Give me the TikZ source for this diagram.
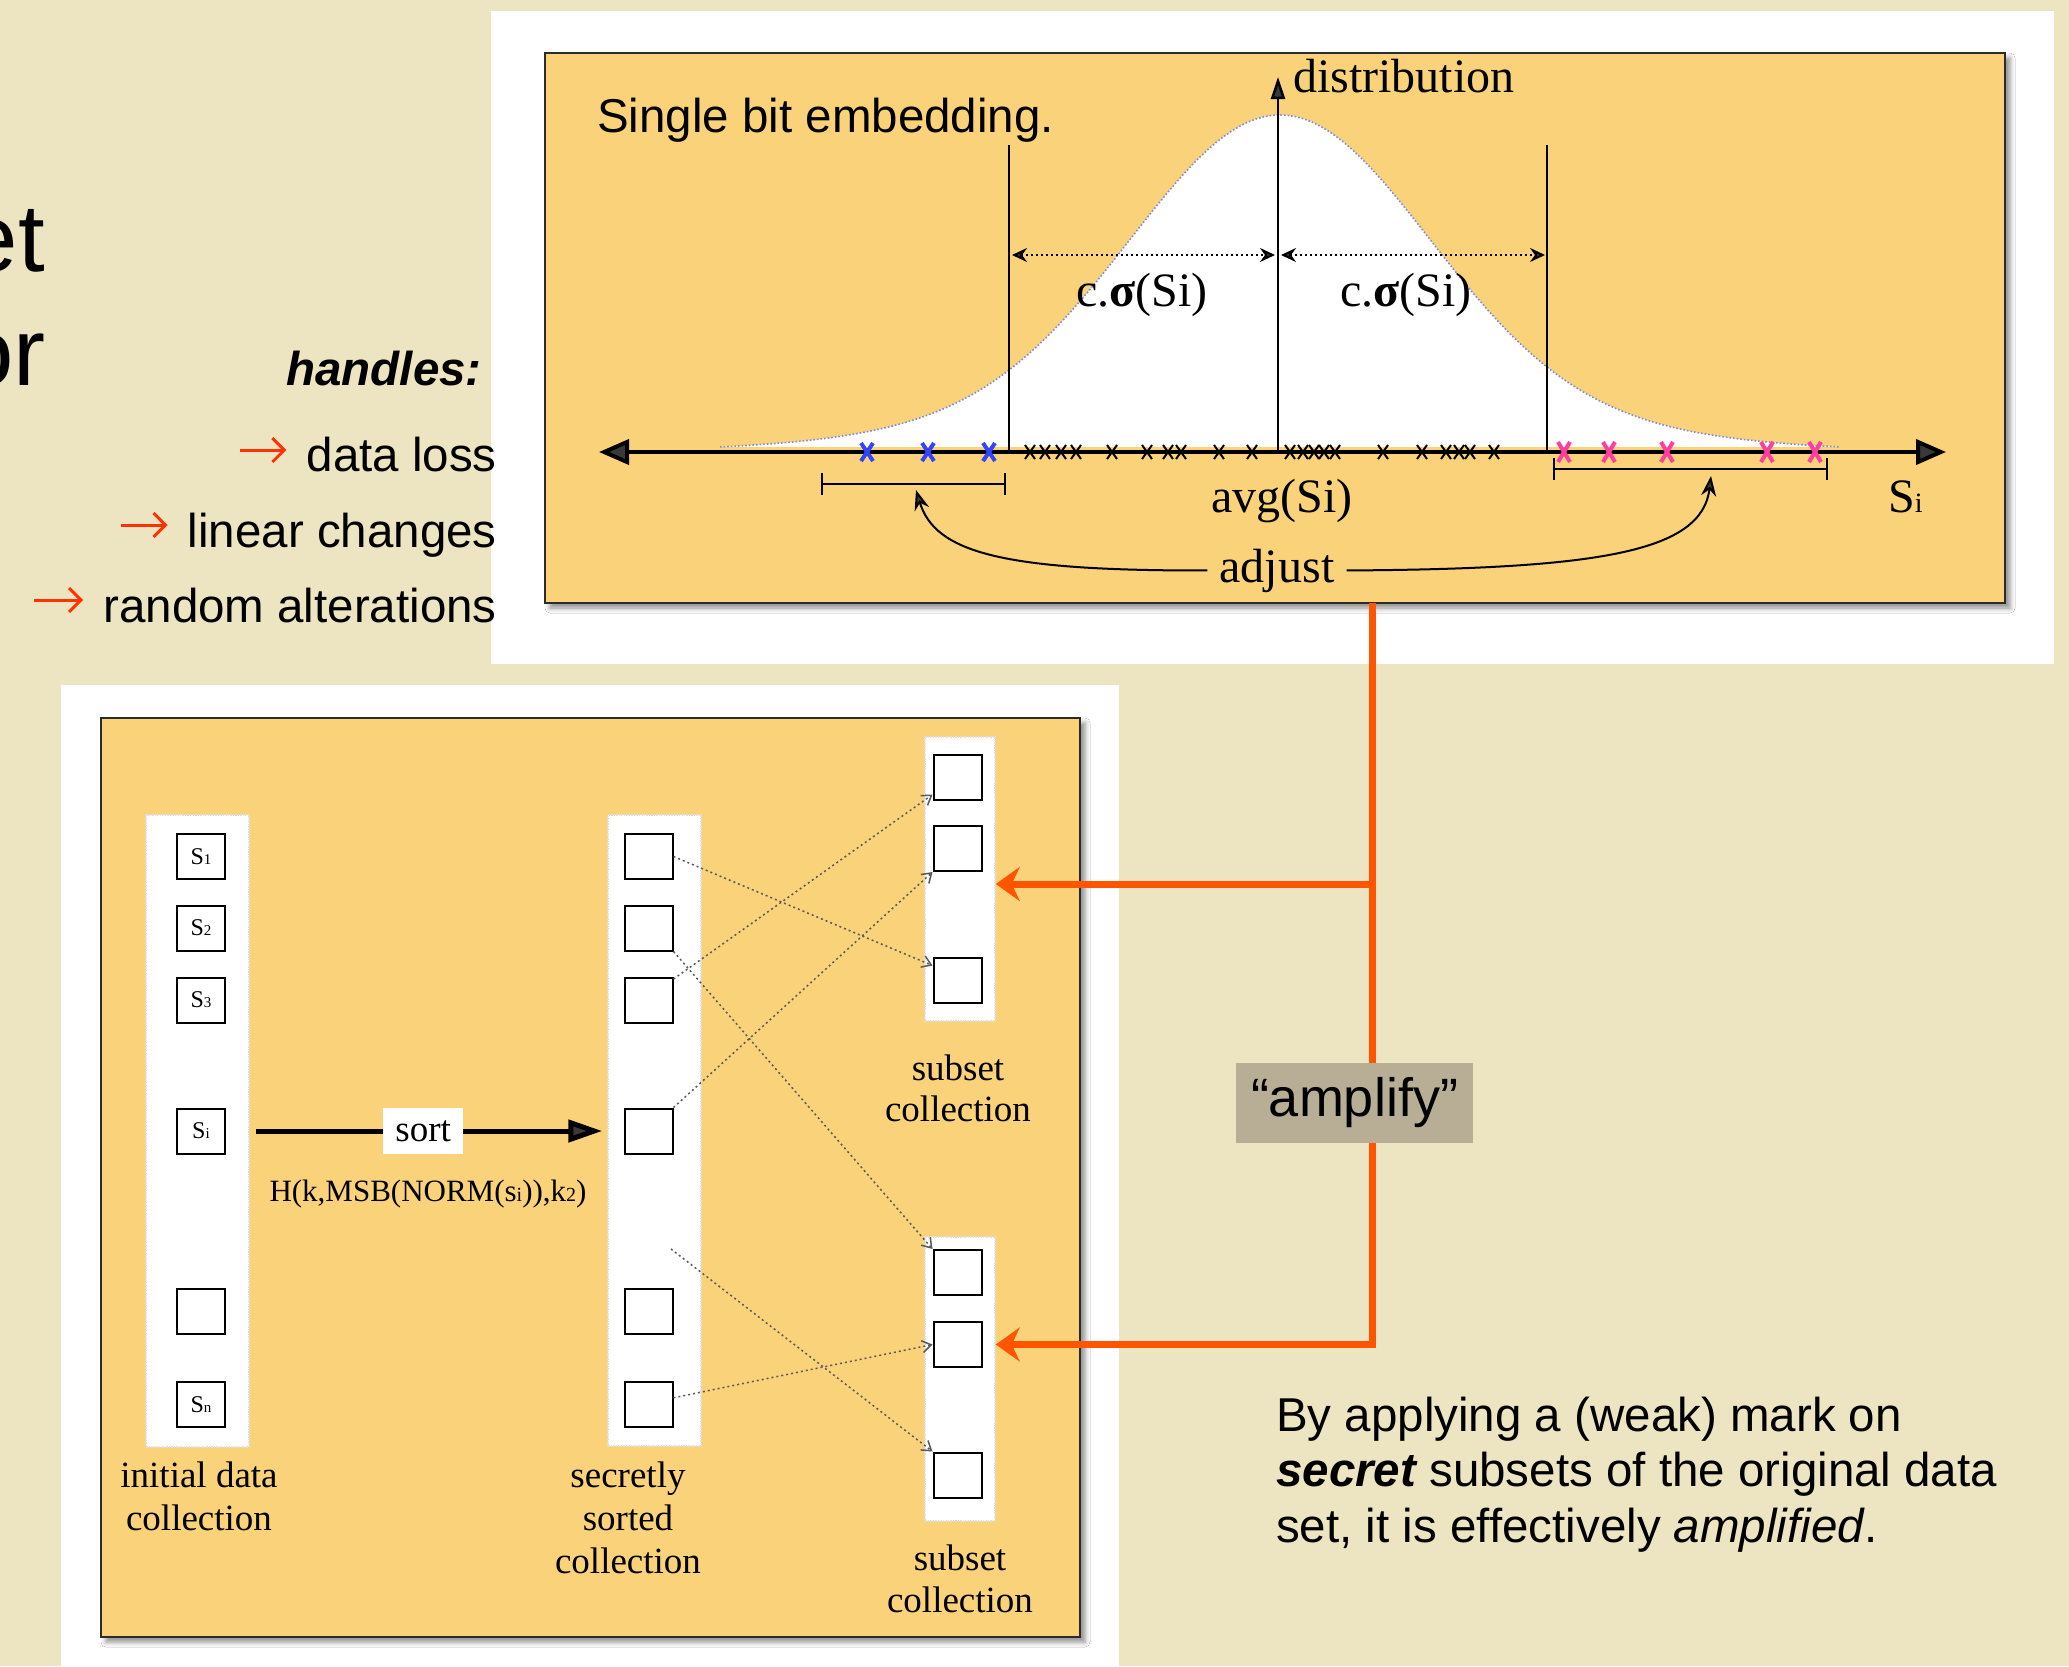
\documentclass[tikz,border=0pt]{standalone}
\usepackage{fontspec}
\setmainfont{Liberation Serif}
\newfontfamily\arialfam{Liberation Sans}
\usetikzlibrary{arrows.meta,shadows.blur}
\definecolor{bgbeige}{HTML}{EDE4C2}
\definecolor{panelfill}{HTML}{FAD27A}
\definecolor{panelline}{HTML}{2B2B2B}
\definecolor{amplifybg}{HTML}{B8AE96}
\definecolor{connorange}{HTML}{FF5500}
\definecolor{arrowred}{HTML}{FF3300}
\definecolor{markblue}{HTML}{3344FF}
\definecolor{markpink}{HTML}{FF3FA0}
\definecolor{curveblue}{HTML}{7C8CD8}
\newcommand\fsz[1]{\fontsize{#1}{#1}\selectfont}
\begin{document}
\begin{tikzpicture}[x=1pt,y=-1pt,
  sanstext/.style={font=\arialfam\fsz{47.5}, inner sep=0pt},
  serifbig/.style={font=\fsz{48}, inner sep=0pt},
  seriflow/.style={font=\fsz{37}, inner sep=0pt},
  panel/.style={draw=panelline, line width=2.5pt, fill=panelfill,
    blur shadow={shadow xshift=5pt, shadow yshift=-5pt, shadow blur radius=5pt, shadow opacity=45}},
  strip/.style={fill=white, draw=black!12, densely dotted, line width=1.5pt, inner sep=0pt},
  cell/.style={draw=black, line width=2pt, fill=white, minimum width=48pt, minimum height=45pt, inner sep=0pt, font=\fsz{24}},
  mapline/.style={draw=black!65, line width=1.5pt, dash pattern=on 2pt off 3pt, -{Straight Barb[length=9pt,width=12pt]}},
  orangeconn/.style={draw=connorange, line width=7pt, -{Stealth[length=24pt,width=34pt,inset=8pt]}},
  redarrow/.style={draw=arrowred, line width=3pt, shorten >=20pt, -{Straight Barb[length=12pt,width=24pt,line width=3pt]}},
  dimarrow/.style={line width=2pt, dash pattern=on 2pt off 3pt,
    {Stealth[length=15pt,width=14pt,inset=5pt]}-{Stealth[length=15pt,width=14pt,inset=5pt]}},
  curvearrow/.style={line width=2pt, -{Stealth[length=20pt,width=15pt]}}
]
\useasboundingbox (0,0) rectangle (2069,1666);
\fill[bgbeige] (0,0) rectangle (2069,1666);

% cut-off title fragments (cut off at the left edge as in the reference)
\begin{scope}
\clip (0,0) rectangle (2069,1666);
\node[font=\arialfam\fsz{96}, inner sep=0pt, anchor=base east] (ttla) at (45,271) {et};
\node[font=\arialfam\fsz{96}, inner sep=0pt, anchor=base east] (ttlb) at (46,385) {or};
\end{scope}

% ---------- top panel ----------
\fill[white] (491,11) rectangle (2054,664);
\path[panel] (545,53) rectangle (2005,603);

% bell curve
\fill[white] plot[domain=-560:560, samples=141]
  ({1280+\x},{452-337*(0.82*exp(-0.5*(\x/145)*(\x/145))+0.18*exp(-0.5*(\x/250)*(\x/250)))}) -- cycle;
\draw[curveblue, line width=1.6pt, dotted] plot[domain=-560:560, samples=141]
  ({1280+\x},{452-337*(0.82*exp(-0.5*(\x/145)*(\x/145))+0.18*exp(-0.5*(\x/250)*(\x/250)))});

% vertical lines
\draw[line width=2pt] (1009,145) -- (1009,452);
\draw[line width=2pt] (1547,145) -- (1547,452);
\coordinate (vaxb) at (1278,452);
\coordinate (vaxt) at (1278,77);
\draw[line width=2.5pt, -{Triangle[length=22pt,width=14pt]}] (vaxb) -- (vaxt);

% horizontal axis
\coordinate (axl) at (599,452);
\coordinate (axr) at (1946,452);
\draw[line width=4pt, {Triangle[length=30pt,width=25pt]}-{Triangle[length=30pt,width=25pt]}] (axl) -- (axr);

% marks
\foreach \p in {1030,1045,1061,1076,1112,1147,1168,1181,1219,1252,1290,1303,1314,1324,1335,1383,1422,1446,1459,1470,1494}
  \draw[line width=2pt] (\p-5,445) -- (\p+5,459) (\p-5,459) -- (\p+5,445);
\foreach \p in {867,928,989}
  \draw[markblue, line width=4pt] (\p-6,443) -- (\p+6,461) (\p-6,461) -- (\p+6,443);
\foreach \p in {1564,1609,1667,1767,1815}
  \draw[markpink, line width=4pt] (\p-6,442) -- (\p+6,462) (\p-6,462) -- (\p+6,442);

% brackets
\draw[line width=2pt] (822,473) -- (822,495) (822,484) -- (1005,484) (1005,473) -- (1005,495);
\draw[line width=2pt] (1554,458) -- (1554,480) (1554,469) -- (1827,469) (1827,458) -- (1827,480);

% dimension arrows
\coordinate (d1a) at (1012,255);
\coordinate (d1b) at (1275,255);
\coordinate (d2a) at (1281,255);
\coordinate (d2b) at (1545,255);
\draw[dimarrow] (d1a) -- (d1b);
\draw[dimarrow] (d2a) -- (d2b);

% labels
\node[sanstext, anchor=base west] (ptitle) at (597,132) {Single bit embedding.};
\node[serifbig, anchor=base west] (distlab) at (1293,92) {distribution};
\node[serifbig, anchor=base] (sig1) at (1142,306) {c.{\bfseries σ}(Si)};
\node[serifbig, anchor=base] (sig2) at (1406,306) {c.{\bfseries σ}(Si)};
\node[serifbig, anchor=base] (avg) at (1282,512) {avg(Si)};
\node[serifbig, anchor=base west] (silab) at (1888,512) {S{\fsz{28}i}};
\node[serifbig, anchor=base, inner xsep=12pt] (adj) at (1277,582) {adjust};

\coordinate (lbr) at (916,490);
\coordinate (rbr) at (1711,476);
\draw[curvearrow] (adj.west) .. controls (1000,571) and (935,552) .. (lbr);
\draw[curvearrow] (adj.east) .. controls (1600,569) and (1702,552) .. (rbr);

% ---------- left text ----------
\node[sanstext, anchor=base east] (handles) at (482,385) {\bfseries\itshape handles:};
\node[sanstext, anchor=base east] (hl1) at (497,471) {data loss};
\node[sanstext, anchor=base east] (hl2) at (497,547) {linear changes};
\node[sanstext, anchor=base east] (hl3) at (497,622) {random alterations};
\coordinate (ra1) at (240,450);
\coordinate (ra2) at (121,525);
\coordinate (ra3) at (34,600);
\draw[redarrow] (ra1) -- (ra1 -| hl1.west);
\draw[redarrow] (ra2) -- (ra2 -| hl2.west);
\draw[redarrow] (ra3) -- (ra3 -| hl3.west);

% ---------- lower panel ----------
\fill[white] (61,685) rectangle (1119,1666);
\path[panel] (101,718) rectangle (1080,1637);

\node[strip, minimum width=103pt, minimum height=632pt] (s1) at (197.5,1131) {};
\node[strip, minimum width=93pt, minimum height=631pt] (s2) at (654.5,1130.5) {};
\node[strip, minimum width=70pt, minimum height=284pt] (s3) at (960,879) {};
\node[strip, minimum width=70pt, minimum height=284pt] (s4) at (960,1379) {};

\node[cell] (a1) at (201,856.5) {S{\fsz{15}1}};
\node[cell] (a2) at (201,928) {S{\fsz{15}2}};
\node[cell] (a3) at (201,1000) {S{\fsz{15}3}};
\node[cell] (a4) at (201,1131) {S{\fsz{15}i}};
\node[cell] (a5) at (201,1311) {};
\node[cell] (a6) at (201,1404.5) {S{\fsz{15}n}};

\node[cell] (m1) at (648.5,856.5) {};
\node[cell] (m2) at (648.5,928) {};
\node[cell] (m3) at (648.5,1000) {};
\node[cell] (m4) at (648.5,1131) {};
\node[cell] (m5) at (648.5,1311) {};
\node[cell] (m6) at (648.5,1404.5) {};

\node[cell] (u1) at (957.5,777) {};
\node[cell] (u2) at (957.5,848.5) {};
\node[cell] (u3) at (957.5,980) {};
\node[cell] (l1) at (957.5,1272.5) {};
\node[cell] (l2) at (957.5,1344.5) {};
\node[cell] (l3) at (957.5,1475) {};

% sort arrow
\draw[line width=5pt, -{Triangle[length=34pt,width=22pt]}, shorten <=6pt, shorten >=5pt]
  (s1.east) -- (s1.east -| s2.west)
  node[pos=0.485, fill=white, inner sep=0pt, minimum width=80pt, minimum height=46pt, font=\fsz{37}] (sortlab) {sort};
\node[font=\fsz{31}, anchor=base, inner sep=0pt] (hlab) at (428,1201) {H(k,MSB(NORM(s{\fsz{20}i})),k{\fsz{20}2})};

% mapping lines
\coordinate (gap) at (671,1249);
\draw[mapline] (m1.east) -- (u3.150);
\draw[mapline] (m2.south east) -- (l1.north west);
\draw[mapline] (m3.40) -- (u1.215);
\draw[mapline] (m4.north east) -- (u2.south west);
\draw[mapline] (gap) -- (l3.north west);
\draw[mapline] (m6.15) -- (l2.west);

% lower labels
\node[seriflow, anchor=base] (c1a) at (199,1487) {initial data};
\node[seriflow, anchor=base] (c1b) at (199,1530) {collection};
\node[seriflow, anchor=base] (c2a) at (628,1487) {secretly};
\node[seriflow, anchor=base] (c2b) at (628,1530) {sorted};
\node[seriflow, anchor=base] (c2c) at (628,1573) {collection};
\node[seriflow, anchor=base] (c3a) at (958,1080) {subset};
\node[seriflow, anchor=base] (c3b) at (958,1121) {collection};
\node[seriflow, anchor=base] (c4a) at (960,1570) {subset};
\node[seriflow, anchor=base] (c4b) at (960,1612) {collection};

% ---------- orange connectors ----------
\coordinate (ostart) at (1372,603);
\coordinate (obranch) at (1372,884);
\draw[orangeconn] (ostart) |- (s4.east |- l2);
\draw[orangeconn] (obranch) -- (s3.east |- obranch);
\node[fill=amplifybg, minimum width=237pt, minimum height=80pt, inner sep=0pt, font=\arialfam\fsz{54}] (amp) at (1354.5,1103) {“amplify”};

% ---------- note text ----------
\node[sanstext, anchor=base west] (note1) at (1276,1431) {By applying a (weak) mark on};
\node[sanstext, anchor=base west] (note2) at (1276,1486) {{\bfseries\itshape secret} subsets of the original data};
\node[sanstext, anchor=base west] (note3) at (1276,1542) {set, it is effectively \textit{amplified}.};
\end{tikzpicture}
\end{document}
